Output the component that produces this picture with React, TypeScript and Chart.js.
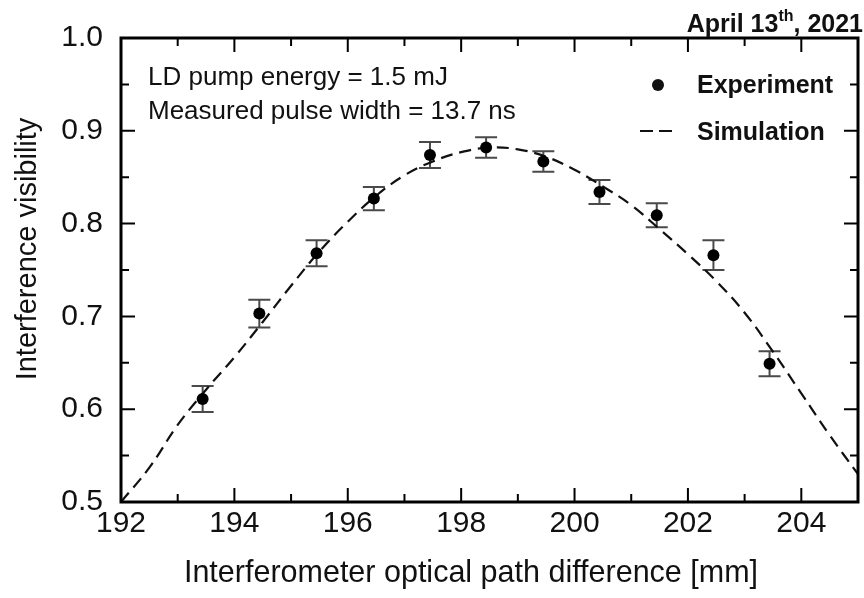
import React, { useEffect, useRef } from 'react';
import { Chart, registerables } from 'chart.js';

Chart.register(...registerables);

// ---- Axis ticks ----
const xTickValues = [192, 194, 196, 198, 200, 202, 204];
const xMinorTickValues = [193, 195, 197, 199, 201, 203];
const yTickValues = [0.5, 0.6, 0.7, 0.8, 0.9, 1.0];
const yMinorTickValues = [0.55, 0.65, 0.75, 0.85, 0.95];

// ---- Experiment (points with error bars) ----
const expX = [193.44, 194.44, 195.45, 196.46, 197.45, 198.44, 199.45, 200.44, 201.45, 202.45, 203.44];
const expY = [0.611, 0.703, 0.768, 0.827, 0.874, 0.882, 0.867, 0.834, 0.809, 0.766, 0.649];
const expErr = [0.014, 0.015, 0.014, 0.0125, 0.014, 0.011, 0.011, 0.013, 0.013, 0.016, 0.0135];

// ---- Simulation curve ----
const simX = [192.0, 192.5, 193.0, 193.5, 194.0, 194.5, 195.0, 195.5, 196.0, 196.5, 197.0, 197.5, 198.0, 198.5, 199.0, 199.5, 200.0, 200.5, 201.0, 201.5, 202.0, 202.5, 203.0, 203.5, 204.0, 204.5, 205.0];
const simY = [0.500, 0.537, 0.583, 0.621, 0.656, 0.694, 0.733, 0.770, 0.802, 0.830, 0.852, 0.867, 0.877, 0.882, 0.880, 0.872, 0.858, 0.840, 0.820, 0.794, 0.767, 0.738, 0.704, 0.662, 0.617, 0.572, 0.530];

const annotationLines = ['LD pump energy = 1.5 mJ', 'Measured pulse width = 13.7 ns'];
const xTitle = 'Interferometer optical path difference [mm]';
const yTitle = 'Interference visibility';

const FONT = "'Liberation Sans', Arial, Helvetica, sans-serif";

const errorBarPlugin = {
  id: 'errorBars',
  beforeDatasetsDraw(chart: any) {
    const { ctx, scales } = chart;
    const x = scales.x, y = scales.y;
    ctx.save();
    ctx.strokeStyle = '#4a4a4a';
    ctx.lineWidth = 2;
    ctx.beginPath();
    for (let i = 0; i < expX.length; i++) {
      const px = x.getPixelForValue(expX[i]);
      const pt = y.getPixelForValue(expY[i] + expErr[i]);
      const pb = y.getPixelForValue(expY[i] - expErr[i]);
      ctx.moveTo(px, pt); ctx.lineTo(px, pb);
      ctx.moveTo(px - 11, pt); ctx.lineTo(px + 11, pt);
      ctx.moveTo(px - 11, pb); ctx.lineTo(px + 11, pb);
    }
    ctx.stroke();
    ctx.restore();
  },
};

const framePlugin = {
  id: 'frame',
  afterDatasetsDraw(chart: any) {
    const { ctx, chartArea: a, scales } = chart;
    const x = scales.x, y = scales.y;
    const major = 14, minor = 8;
    ctx.save();
    ctx.strokeStyle = '#000';
    ctx.lineWidth = 2;
    ctx.beginPath();
    const xt = (vals: number[], len: number) => {
      for (const v of vals) {
        const px = x.getPixelForValue(v);
        ctx.moveTo(px, a.bottom); ctx.lineTo(px, a.bottom - len);
        ctx.moveTo(px, a.top); ctx.lineTo(px, a.top + len);
      }
    };
    const yt = (vals: number[], len: number) => {
      for (const v of vals) {
        const py = y.getPixelForValue(v);
        ctx.moveTo(a.left, py); ctx.lineTo(a.left + len, py);
        ctx.moveTo(a.right, py); ctx.lineTo(a.right - len, py);
      }
    };
    xt(xTickValues, major); xt(xMinorTickValues, minor);
    yt(yTickValues, major); yt(yMinorTickValues, minor);
    ctx.stroke();
    ctx.lineWidth = 3;
    ctx.strokeRect(a.left, a.top, a.right - a.left, a.bottom - a.top);
    ctx.restore();
  },
};

const textPlugin = {
  id: 'texts',
  afterDraw(chart: any) {
    const { ctx } = chart;
    ctx.save();
    ctx.fillStyle = '#111';
    // annotation
    ctx.font = `26px ${FONT}`;
    ctx.textAlign = 'left';
    ctx.textBaseline = 'alphabetic';
    ctx.fillText(annotationLines[0], 148, 85);
    ctx.fillText(annotationLines[1], 148, 119);
    // legend
    ctx.font = `bold 25px ${FONT}`;
    ctx.fillText('Experiment', 697, 93);
    ctx.fillText('Simulation', 697, 140);
    ctx.beginPath();
    ctx.arc(658, 85, 6, 0, Math.PI * 2);
    ctx.fill();
    ctx.strokeStyle = '#111';
    ctx.lineWidth = 2.2;
    ctx.setLineDash([13, 6]);
    ctx.beginPath();
    ctx.moveTo(640, 131); ctx.lineTo(673, 131);
    ctx.stroke();
    ctx.setLineDash([]);
    // title with superscript
    const p1 = 'April 13', p2 = 'th', p3 = ', 2021';
    ctx.font = `bold 25px ${FONT}`;
    const w1 = ctx.measureText(p1).width;
    const w3 = ctx.measureText(p3).width;
    ctx.font = `bold 16px ${FONT}`;
    const w2 = ctx.measureText(p2).width;
    const sx = 863 - (w1 + w2 + w3);
    ctx.font = `bold 25px ${FONT}`;
    ctx.fillText(p1, sx, 32);
    ctx.font = `bold 16px ${FONT}`;
    ctx.fillText(p2, sx + w1, 21);
    ctx.font = `bold 25px ${FONT}`;
    ctx.fillText(p3, sx + w1 + w2, 32);
    // axis titles
    ctx.font = `30.5px ${FONT}`;
    ctx.textAlign = 'center';
    ctx.textBaseline = 'middle';
    ctx.fillText(xTitle, 471, 574);
    ctx.font = `29px ${FONT}`;
    ctx.translate(28, 249);
    ctx.rotate(-Math.PI / 2);
    ctx.fillText(yTitle, 0, 0);
    ctx.restore();
  },
};

export default function App() {
  const ref = useRef<HTMLCanvasElement | null>(null);
  useEffect(() => {
    if (!ref.current) return;
    const chart = new Chart(ref.current, {
      type: 'scatter',
      data: {
        datasets: [
          {
            label: 'Simulation',
            data: simX.map((v, i) => ({ x: v, y: simY[i] })),
            showLine: true,
            borderColor: '#111',
            borderWidth: 2.2,
            borderDash: [12, 7],
            pointRadius: 0,
            tension: 0.4,
            fill: false,
            order: 2,
          },
          {
            label: 'Experiment',
            data: expX.map((v, i) => ({ x: v, y: expY[i] })),
            showLine: false,
            pointRadius: 6,
            pointBackgroundColor: '#000',
            pointBorderWidth: 0,
            order: 1,
          },
        ],
      },
      options: {
        responsive: false,
        animation: false,
        devicePixelRatio: 1,
        layout: { padding: { top: 38, right: 4, left: 0, bottom: 0 } },
        plugins: { legend: { display: false }, tooltip: { enabled: false }, title: { display: false } },
        scales: {
          x: {
            type: 'linear',
            min: 192,
            max: 205,
            afterBuildTicks: (s: any) => { s.ticks = xTickValues.map((v) => ({ value: v })); },
            afterFit: (s: any) => { s.height = 96; },
            grid: { display: false, drawTicks: false },
            border: { display: false },
            ticks: {
              includeBounds: false,
              padding: 4,
              color: '#111',
              font: { family: FONT, size: 30 },
              maxRotation: 0,
              autoSkip: false,
              callback: (v: any) => String(v),
            },
          },
          y: {
            type: 'linear',
            min: 0.5,
            max: 1.0,
            afterBuildTicks: (s: any) => { s.ticks = yTickValues.map((v) => ({ value: v })); },
            afterFit: (s: any) => { s.width = 121; },
            grid: { display: false, drawTicks: false },
            border: { display: false },
            ticks: {
              includeBounds: false,
              padding: 18,
              color: '#111',
              font: { family: FONT, size: 30 },
              autoSkip: false,
              callback: (v: any) => Number(v).toFixed(1),
            },
          },
        },
      },
      plugins: [errorBarPlugin, framePlugin, textPlugin],
    } as any);
    return () => chart.destroy();
  }, []);
  return (
    <div style={{ position: 'absolute', left: 0, top: 0, width: 864, height: 598, background: '#fff' }}>
      <canvas ref={ref} width={864} height={598} />
    </div>
  );
}
